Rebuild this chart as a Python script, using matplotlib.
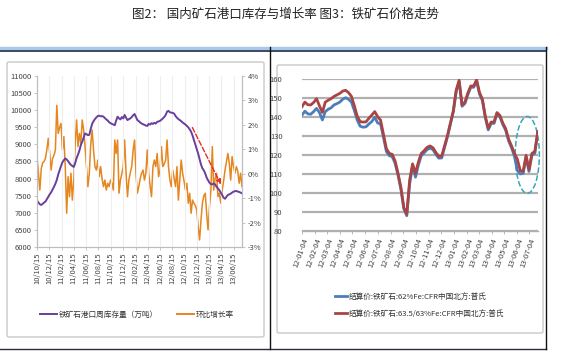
import numpy as np
import pandas as pd
import matplotlib
matplotlib.use("Agg")
import matplotlib.pyplot as plt
import matplotlib.dates as mdates
from matplotlib.patches import Ellipse, FancyBboxPatch
from matplotlib.lines import Line2D

plt.rcParams['font.family'] = ['Noto Sans CJK SC', 'DejaVu Sans']

# fig 2: weekly port inventory (10k t) and week-on-week growth (%)
inv_start = '2010-10-15'
inventory = [
    7360, 7300, 7250, 7230, 7260, 7300, 7330, 7400, 7470, 7540,
    7600, 7680, 7760, 7850, 7960, 8120, 8250, 8370, 8480, 8540,
    8590, 8560, 8510, 8450, 8400, 8370, 8340, 8450, 8600, 8700,
    8820, 8980, 9080, 9200, 9320, 9300, 9270, 9280, 9450, 9600,
    9680, 9740, 9790, 9830, 9840, 9820, 9830, 9810, 9770, 9730,
    9700, 9650, 9620, 9600, 9580, 9560, 9700, 9810, 9760, 9730,
    9800, 9760, 9860, 9780, 9710, 9740, 9760, 9800, 9850, 9890,
    9800, 9710, 9680, 9640, 9610, 9590, 9570, 9550, 9540, 9600,
    9580, 9620, 9600, 9630, 9610, 9660, 9670, 9690, 9720, 9760,
    9800, 9860, 9960, 9980, 9940, 9930, 9920, 9900, 9830, 9780,
    9740, 9710, 9680, 9640, 9610, 9580, 9540, 9500, 9440, 9370,
    9260, 9130, 8990, 8860, 8730, 8570, 8410, 8300, 8240, 8150,
    8030, 7950, 7880, 7840, 7830, 7860, 7830, 7760, 7710, 7660,
    7590, 7520, 7440, 7410, 7470, 7520, 7540, 7560, 7590, 7620,
    7630, 7640, 7620, 7610, 7590, 7570,
]
growth = [
    0.70, 0.00, -0.67, 0.20, 0.45, 0.50, 0.63, 1.00, 1.45, 0.83,
    0.15, 0.63, 0.75, 0.97, 2.80, 1.65, 1.90, 2.06, 0.97, 1.52,
    0.29, -1.62, -0.12, -0.94, 0.02, -1.08, -0.26, 1.20, 2.20, 1.11,
    1.65, 1.24, 2.20, 1.79, 1.11, 0.29, -0.53, 0.02, 1.20, 1.79,
    0.97, 0.29, 0.15, 0.56, -0.12, 0.29, -0.20, -0.53, -0.26, -0.67,
    -0.39, -0.53, -0.26, -0.40, -0.67, 1.38, 0.83, 1.38, -0.80, -0.26,
    0.00, 0.29, 1.38, 0.02, -0.94, -0.26, 0.05, 0.29, 0.97, 1.38,
    0.02, -0.80, -0.53, -0.20, 0.02, 0.15, -0.26, 0.02, 0.97, 0.02,
    -0.50, -0.94, 0.29, 0.56, 0.29, 0.83, -0.12, 0.15, 1.11, 0.29,
    0.40, 0.56, 1.38, 0.29, -0.26, -0.53, 0.15, -0.20, -0.53, 0.29,
    -1.08, -0.26, 0.56, 0.02, -0.30, -0.67, -0.39, -1.21, -0.80, -1.62,
    -1.08, -1.21, -1.30, -1.48, -2.17, -2.71, -1.89, -1.21, -0.90, -0.80,
    -1.62, -2.30, -1.35, -0.67, 1.11, -0.67, -0.20, 0.02, -0.94, -0.80,
    -1.21, -0.67, -0.30, 0.15, 0.50, 0.83, 0.43, -0.26, 0.70, 0.30,
    0.02, 0.29, 0.10, -0.39, 0.02, -0.53,
]

# fig 3: Platts iron ore CFR north China, weekly
price_start = '2012-01-04'
price_62 = [
    141.2, 143.2, 141.8, 141.6, 143.0, 144.7, 142.5, 138.6, 143.0, 144.2,
    145.0, 146.5, 147.2, 148.0, 149.5, 150.3, 149.5, 148.0, 143.5, 138.5,
    135.3, 134.8, 135.0, 136.5, 137.8, 140.0, 137.0, 136.5, 129.5, 122.0,
    119.8, 119.3, 115.8, 109.5, 102.0, 91.8, 88.2, 105.0, 114.5, 108.5,
    115.0, 119.8, 121.3, 123.0, 123.8, 123.0, 120.5, 118.5, 118.6, 124.2,
    129.8, 136.3, 142.8, 153.6, 158.8, 145.8, 147.3, 152.0, 155.8, 155.8,
    159.0, 152.3, 148.8, 139.8, 133.4, 136.8, 136.8, 141.8, 140.3, 136.2,
    133.2, 127.6, 124.0, 119.5, 112.0, 110.2, 110.5, 119.0, 111.5, 120.0,
    121.0, 131.5,
]
price_63 = [
    145.6, 148.0, 146.6, 146.5, 147.8, 149.8, 146.0, 142.6, 148.0, 149.0,
    149.8, 151.0, 151.8, 152.6, 153.8, 154.2, 153.0, 151.0, 146.0, 140.5,
    137.7, 137.5, 137.6, 139.5, 141.2, 143.0, 140.3, 138.5, 131.0, 123.5,
    121.0, 120.5, 117.0, 110.5, 103.0, 92.5, 89.0, 107.0, 115.5, 110.5,
    116.5, 121.0, 122.5, 124.2, 124.9, 124.0, 121.5, 119.5, 119.5, 125.0,
    130.5, 137.0, 143.5, 154.4, 159.5, 146.5, 148.0, 152.8, 156.5, 156.5,
    159.8, 153.0, 149.5, 140.5, 134.2, 137.5, 137.5, 142.5, 141.0, 137.0,
    134.0, 128.5, 125.0, 121.0, 118.0, 112.0, 111.5, 120.0, 112.5, 121.0,
    122.0, 132.5,
]

inv_dates = pd.date_range(inv_start, periods=len(inventory), freq='7D')
price_dates = pd.date_range(price_start, periods=len(price_63), freq='7D')

W, H = 562, 357
fig = plt.figure(figsize=(W / 100, H / 100), dpi=100)


def fx(px):
    return px / W


def fy(py):
    return 1 - py / H


# title and frame
fig.text(fx(286), fy(14), '图2： 国内矿石港口库存与增长率 图3：铁矿石价格走势',
         ha='center', va='center', fontsize=9, color='#222222')
fig.add_artist(Line2D([0, fx(546)], [fy(47.5)] * 2, color='#a9c8ec', lw=2.5))
fig.add_artist(Line2D([0, fx(546)], [fy(50.5)] * 2, color='#1e2b48', lw=1.2))
fig.add_artist(Line2D([0, fx(546)], [fy(349)] * 2, color='#2a2a3a', lw=1.0))
fig.add_artist(Line2D([fx(270)] * 2, [fy(47), fy(349)], color='#111111', lw=1.0))
fig.add_artist(Line2D([fx(546)] * 2, [fy(47), fy(349)], color='#111111', lw=1.0))

for x0, y0, x1, y1 in [(7, 62, 264, 337), (277, 65, 543, 333)]:
    fig.add_artist(FancyBboxPatch((fx(x0), fy(y1)), fx(x1 - x0), (y1 - y0) / H,
                                  boxstyle='round,pad=0,rounding_size=0.004',
                                  fc='white', ec='#c9c9c9', lw=1.0, zorder=-5,
                                  transform=fig.transFigure))

# ---- left chart
ax1 = fig.add_axes([fx(37), fy(247), fx(205), 171 / H])
ax2 = ax1.twinx()
ax2.plot(inv_dates, growth, color='#e5861f', lw=1.1)
ax1.plot(inv_dates, inventory, color='#6a3e9c', lw=1.4)
ax2.patch.set_visible(False)
ax1.set_zorder(ax2.get_zorder() + 1)
ax1.patch.set_visible(False)

ax1.set_ylim(6000, 11000)
ax1.set_yticks(np.arange(6000, 11001, 500))
ax2.set_ylim(-3, 4)
ax2.set_yticks(np.arange(-3, 5, 1))
ax2.set_yticklabels([f'{v}%' for v in range(-3, 5)])
ax1.set_xlim(inv_dates[0], pd.Timestamp('2013-07-26'))
ax1.xaxis.set_major_locator(mdates.MonthLocator(bymonth=(2, 4, 6, 8, 10, 12), bymonthday=15))
ax1.xaxis.set_major_formatter(mdates.DateFormatter('%y/%m/%d'))
ax1.grid(axis='x', color='#eeeeee', lw=0.8)
for lab in ax1.get_xticklabels():
    lab.set_rotation(90)

for a in (ax1, ax2):
    a.spines['top'].set_visible(False)
    for s in ('left', 'right', 'bottom'):
        a.spines[s].set_color('#bdbdbd')
        a.spines[s].set_linewidth(0.8)
    a.tick_params(labelsize=5.5, colors='#444444', length=2, width=0.6, pad=2)
    a.tick_params(axis='both', color='#bdbdbd')

ax1.annotate('', xy=(inv_dates[131], 7754), xytext=(inv_dates[109], 9567),
             arrowprops=dict(arrowstyle='-|>', color='#e03030', lw=1.0,
                             linestyle='--', mutation_scale=7))

h1 = Line2D([], [], color='#6a3e9c', lw=1.4)
h2 = Line2D([], [], color='#e5861f', lw=1.4)
fig.legend([h1, h2], ['铁矿石港口周库存量（万吨）', '环比增长率'],
           loc='center', bbox_to_anchor=(fx(137), fy(315)), ncol=2, frameon=False,
           fontsize=5.5, handlelength=2.2, handletextpad=0.2, columnspacing=2.5,
           labelcolor='#333333')

# ---- right chart
ax3 = fig.add_axes([fx(302), fy(231.3), fx(235.7), 152 / H])
ax3.patch.set_visible(False)
ax3.plot(price_dates, price_62, color='#4a7ebb', lw=2.0)
ax3.plot(price_dates, price_63, color='#a94442', lw=2.0)
ax3.set_ylim(80, 160)
ax3.set_yticks(np.arange(80, 161, 10))
ax3.set_xlim(price_dates[0], price_dates[-1])
ax3.grid(axis='y', color='#b0b0b0', lw=1.6)
ax3.set_axisbelow(True)
ax3.xaxis.set_major_locator(mdates.MonthLocator(bymonthday=4))
ax3.xaxis.set_major_formatter(mdates.DateFormatter('%y-%m-%d'))
for s in ('top', 'right', 'left'):
    ax3.spines[s].set_visible(False)
ax3.spines['bottom'].set_color('#b0b0b0')
ax3.spines['bottom'].set_linewidth(1.0)
ax3.tick_params(axis='y', length=0, pad=14, labelsize=5.5, colors='#444444')
ax3.tick_params(axis='x', length=2, width=0.6, color='#b0b0b0', labelsize=5.5,
                colors='#444444', pad=2)
for lab in ax3.get_xticklabels():
    lab.set_rotation(70)
    lab.set_ha('right')
    lab.set_va('top')
    lab.set_rotation_mode('anchor')

ell = Ellipse((mdates.date2num(pd.Timestamp('2013-06-29')), 120.2), 58, 40.5,
              fill=False, ec='#35a6b8', lw=1.1, ls='--', clip_on=False)
ax3.add_patch(ell)

h3 = Line2D([], [], color='#4a7ebb', lw=2.0)
h4 = Line2D([], [], color='#a94442', lw=2.0)
fig.legend([h3, h4], ['结算价:铁矿石:62%Fe:CFR中国北方:普氏',
                      '结算价:铁矿石:63.5/63%Fe:CFR中国北方:普氏'],
           loc='upper left', bbox_to_anchor=(fx(328), fy(286)), frameon=False,
           fontsize=5.5, handlelength=1.6, handletextpad=0.2, labelspacing=1.2,
           labelcolor='#333333')

fig.savefig('out.png', dpi=100)
